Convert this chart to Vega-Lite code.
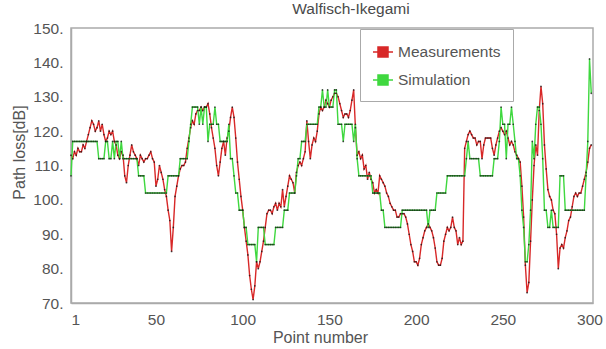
{
"$schema":"https://vega.github.io/schema/vega-lite/v6.json",
"width":522,"height":275,
"autosize":{"type":"none"},
"padding":{"left":71,"top":28,"right":13,"bottom":46},
"background":"white",
"title":{"text":"Walfisch-Ikegami","fontSize":15.5,"font":"Liberation Sans","fontWeight":"normal","color":"#4a4a4a","anchor":"middle","offset":4,"dx":19},
"data":{"values":[
{"n":1,"Measurements":113,"Simulation":107},{"n":2,"Measurements":112,"Simulation":117},{"n":3,"Measurements":114,"Simulation":117},{"n":4,"Measurements":113,"Simulation":117},{"n":5,"Measurements":115,"Simulation":117},{"n":6,"Measurements":114,"Simulation":117},{"n":7,"Measurements":114,"Simulation":117},{"n":8,"Measurements":116,"Simulation":117},{"n":9,"Measurements":115,"Simulation":117},{"n":10,"Measurements":117,"Simulation":117},
{"n":11,"Measurements":119,"Simulation":117},{"n":12,"Measurements":121,"Simulation":117},{"n":13,"Measurements":123,"Simulation":117},{"n":14,"Measurements":122,"Simulation":117},{"n":15,"Measurements":120,"Simulation":117},{"n":16,"Measurements":121,"Simulation":117},{"n":17,"Measurements":123,"Simulation":112},{"n":18,"Measurements":120,"Simulation":112},{"n":19,"Measurements":122,"Simulation":112},{"n":20,"Measurements":119,"Simulation":112},
{"n":21,"Measurements":117,"Simulation":117},{"n":22,"Measurements":118,"Simulation":117},{"n":23,"Measurements":120,"Simulation":112},{"n":24,"Measurements":119,"Simulation":112},{"n":25,"Measurements":120,"Simulation":117},{"n":26,"Measurements":117,"Simulation":112},{"n":27,"Measurements":116,"Simulation":117},{"n":28,"Measurements":113,"Simulation":117},{"n":29,"Measurements":112,"Simulation":112},{"n":30,"Measurements":114,"Simulation":117},
{"n":31,"Measurements":113,"Simulation":112},{"n":32,"Measurements":107,"Simulation":112},{"n":33,"Measurements":105,"Simulation":112},{"n":34,"Measurements":110,"Simulation":112},{"n":35,"Measurements":113,"Simulation":112},{"n":36,"Measurements":116,"Simulation":112},{"n":37,"Measurements":114,"Simulation":112},{"n":38,"Measurements":113,"Simulation":112},{"n":39,"Measurements":112,"Simulation":112},{"n":40,"Measurements":110,"Simulation":107},
{"n":41,"Measurements":113,"Simulation":107},{"n":42,"Measurements":112,"Simulation":107},{"n":43,"Measurements":111,"Simulation":107},{"n":44,"Measurements":112,"Simulation":102},{"n":45,"Measurements":112,"Simulation":102},{"n":46,"Measurements":113,"Simulation":102},{"n":47,"Measurements":114,"Simulation":102},{"n":48,"Measurements":112,"Simulation":102},{"n":49,"Measurements":111,"Simulation":102},{"n":50,"Measurements":104,"Simulation":102},
{"n":51,"Measurements":106,"Simulation":102},{"n":52,"Measurements":110,"Simulation":102},{"n":53,"Measurements":108,"Simulation":102},{"n":54,"Measurements":106,"Simulation":102},{"n":55,"Measurements":103,"Simulation":102},{"n":56,"Measurements":101,"Simulation":102},{"n":57,"Measurements":97,"Simulation":107},{"n":58,"Measurements":94,"Simulation":107},{"n":59,"Measurements":85,"Simulation":107},{"n":60,"Measurements":92,"Simulation":107},
{"n":61,"Measurements":101,"Simulation":107},{"n":62,"Measurements":104,"Simulation":107},{"n":63,"Measurements":107,"Simulation":107},{"n":64,"Measurements":109,"Simulation":112},{"n":65,"Measurements":110,"Simulation":112},{"n":66,"Measurements":110,"Simulation":112},{"n":67,"Measurements":111,"Simulation":112},{"n":68,"Measurements":115,"Simulation":112},{"n":69,"Measurements":118,"Simulation":117},{"n":70,"Measurements":121,"Simulation":122},
{"n":71,"Measurements":123,"Simulation":127},{"n":72,"Measurements":122,"Simulation":127},{"n":73,"Measurements":125,"Simulation":127},{"n":74,"Measurements":126,"Simulation":127},{"n":75,"Measurements":126,"Simulation":122},{"n":76,"Measurements":127,"Simulation":127},{"n":77,"Measurements":126,"Simulation":122},{"n":78,"Measurements":127,"Simulation":127},{"n":79,"Measurements":127,"Simulation":127},{"n":80,"Measurements":128,"Simulation":117},
{"n":81,"Measurements":125,"Simulation":122},{"n":82,"Measurements":121,"Simulation":122},{"n":83,"Measurements":118,"Simulation":122},{"n":84,"Measurements":115,"Simulation":127},{"n":85,"Measurements":110,"Simulation":122},{"n":86,"Measurements":107,"Simulation":122},{"n":87,"Measurements":111,"Simulation":117},{"n":88,"Measurements":115,"Simulation":117},{"n":89,"Measurements":117,"Simulation":117},{"n":90,"Measurements":113,"Simulation":117},
{"n":91,"Measurements":118,"Simulation":117},{"n":92,"Measurements":120,"Simulation":122},{"n":93,"Measurements":124,"Simulation":112},{"n":94,"Measurements":127,"Simulation":112},{"n":95,"Measurements":124,"Simulation":107},{"n":96,"Measurements":118,"Simulation":102},{"n":97,"Measurements":111,"Simulation":102},{"n":98,"Measurements":106,"Simulation":97},{"n":99,"Measurements":101,"Simulation":97},{"n":100,"Measurements":97,"Simulation":97},
{"n":101,"Measurements":92,"Simulation":92},{"n":102,"Measurements":88,"Simulation":92},{"n":103,"Measurements":84,"Simulation":87},{"n":104,"Measurements":78,"Simulation":87},{"n":105,"Measurements":74,"Simulation":87},{"n":106,"Measurements":71,"Simulation":87},{"n":107,"Measurements":75,"Simulation":87},{"n":108,"Measurements":82,"Simulation":82},{"n":109,"Measurements":80,"Simulation":92},{"n":110,"Measurements":82,"Simulation":92},
{"n":111,"Measurements":85,"Simulation":92},{"n":112,"Measurements":88,"Simulation":92},{"n":113,"Measurements":92,"Simulation":87},{"n":114,"Measurements":96,"Simulation":87},{"n":115,"Measurements":97,"Simulation":87},{"n":116,"Measurements":97,"Simulation":87},{"n":117,"Measurements":96,"Simulation":87},{"n":118,"Measurements":98,"Simulation":87},{"n":119,"Measurements":99,"Simulation":92},{"n":120,"Measurements":97,"Simulation":92},
{"n":121,"Measurements":99,"Simulation":92},{"n":122,"Measurements":98,"Simulation":92},{"n":123,"Measurements":103,"Simulation":92},{"n":124,"Measurements":98,"Simulation":97},{"n":125,"Measurements":101,"Simulation":97},{"n":126,"Measurements":104,"Simulation":97},{"n":127,"Measurements":107,"Simulation":102},{"n":128,"Measurements":106,"Simulation":102},{"n":129,"Measurements":105,"Simulation":102},{"n":130,"Measurements":102,"Simulation":102},
{"n":131,"Measurements":108,"Simulation":107},{"n":132,"Measurements":110,"Simulation":112},{"n":133,"Measurements":111,"Simulation":112},{"n":134,"Measurements":110,"Simulation":117},{"n":135,"Measurements":112,"Simulation":117},{"n":136,"Measurements":114,"Simulation":117},{"n":137,"Measurements":123,"Simulation":122},{"n":138,"Measurements":117,"Simulation":122},{"n":139,"Measurements":112,"Simulation":122},{"n":140,"Measurements":116,"Simulation":122},
{"n":141,"Measurements":118,"Simulation":122},{"n":142,"Measurements":117,"Simulation":122},{"n":143,"Measurements":120,"Simulation":122},{"n":144,"Measurements":125,"Simulation":127},{"n":145,"Measurements":127,"Simulation":127},{"n":146,"Measurements":126,"Simulation":132},{"n":147,"Measurements":127,"Simulation":127},{"n":148,"Measurements":129,"Simulation":127},{"n":149,"Measurements":128,"Simulation":132},{"n":150,"Measurements":127,"Simulation":127},
{"n":151,"Measurements":129,"Simulation":127},{"n":152,"Measurements":130,"Simulation":127},{"n":153,"Measurements":131,"Simulation":132},{"n":154,"Measurements":131,"Simulation":132},{"n":155,"Measurements":130,"Simulation":122},{"n":156,"Measurements":128,"Simulation":122},{"n":157,"Measurements":126,"Simulation":122},{"n":158,"Measurements":124,"Simulation":117},{"n":159,"Measurements":125,"Simulation":122},{"n":160,"Measurements":125,"Simulation":122},
{"n":161,"Measurements":124,"Simulation":122},{"n":162,"Measurements":126,"Simulation":122},{"n":163,"Measurements":129,"Simulation":122},{"n":164,"Measurements":132,"Simulation":117},{"n":165,"Measurements":121,"Simulation":122},{"n":166,"Measurements":113,"Simulation":112},{"n":167,"Measurements":114,"Simulation":107},{"n":168,"Measurements":112,"Simulation":107},{"n":169,"Measurements":113,"Simulation":107},{"n":170,"Measurements":109,"Simulation":107},
{"n":171,"Measurements":110,"Simulation":107},{"n":172,"Measurements":106,"Simulation":107},{"n":173,"Measurements":108,"Simulation":107},{"n":174,"Measurements":106,"Simulation":107},{"n":175,"Measurements":105,"Simulation":102},{"n":176,"Measurements":102,"Simulation":102},{"n":177,"Measurements":103,"Simulation":102},{"n":178,"Measurements":102,"Simulation":102},{"n":179,"Measurements":107,"Simulation":102},{"n":180,"Measurements":106,"Simulation":97},
{"n":181,"Measurements":105,"Simulation":97},{"n":182,"Measurements":104,"Simulation":92},{"n":183,"Measurements":102,"Simulation":92},{"n":184,"Measurements":101,"Simulation":92},{"n":185,"Measurements":99,"Simulation":92},{"n":186,"Measurements":98,"Simulation":92},{"n":187,"Measurements":97,"Simulation":92},{"n":188,"Measurements":97,"Simulation":92},{"n":189,"Measurements":95,"Simulation":92},{"n":190,"Measurements":95,"Simulation":92},
{"n":191,"Measurements":96,"Simulation":92},{"n":192,"Measurements":96,"Simulation":97},{"n":193,"Measurements":96,"Simulation":97},{"n":194,"Measurements":95,"Simulation":97},{"n":195,"Measurements":93,"Simulation":97},{"n":196,"Measurements":90,"Simulation":97},{"n":197,"Measurements":87,"Simulation":97},{"n":198,"Measurements":85,"Simulation":97},{"n":199,"Measurements":82,"Simulation":97},{"n":200,"Measurements":82,"Simulation":97},
{"n":201,"Measurements":81,"Simulation":97},{"n":202,"Measurements":83,"Simulation":97},{"n":203,"Measurements":87,"Simulation":97},{"n":204,"Measurements":89,"Simulation":97},{"n":205,"Measurements":91,"Simulation":97},{"n":206,"Measurements":92,"Simulation":97},{"n":207,"Measurements":93,"Simulation":92},{"n":208,"Measurements":92,"Simulation":97},{"n":209,"Measurements":91,"Simulation":97},{"n":210,"Measurements":89,"Simulation":97},
{"n":211,"Measurements":86,"Simulation":97},{"n":212,"Measurements":82,"Simulation":102},{"n":213,"Measurements":81,"Simulation":102},{"n":214,"Measurements":81,"Simulation":102},{"n":215,"Measurements":83,"Simulation":102},{"n":216,"Measurements":88,"Simulation":102},{"n":217,"Measurements":90,"Simulation":102},{"n":218,"Measurements":92,"Simulation":107},{"n":219,"Measurements":91,"Simulation":107},{"n":220,"Measurements":92,"Simulation":107},
{"n":221,"Measurements":95,"Simulation":107},{"n":222,"Measurements":92,"Simulation":107},{"n":223,"Measurements":91,"Simulation":107},{"n":224,"Measurements":87,"Simulation":107},{"n":225,"Measurements":89,"Simulation":107},{"n":226,"Measurements":87,"Simulation":107},{"n":227,"Measurements":88,"Simulation":107},{"n":228,"Measurements":115,"Simulation":107},{"n":229,"Measurements":117,"Simulation":112},{"n":230,"Measurements":119,"Simulation":117},
{"n":231,"Measurements":120,"Simulation":112},{"n":232,"Measurements":119,"Simulation":112},{"n":233,"Measurements":118,"Simulation":112},{"n":234,"Measurements":118,"Simulation":112},{"n":235,"Measurements":116,"Simulation":112},{"n":236,"Measurements":117,"Simulation":112},{"n":237,"Measurements":117,"Simulation":107},{"n":238,"Measurements":112,"Simulation":107},{"n":239,"Measurements":116,"Simulation":107},{"n":240,"Measurements":118,"Simulation":107},
{"n":241,"Measurements":118,"Simulation":107},{"n":242,"Measurements":118,"Simulation":107},{"n":243,"Measurements":118,"Simulation":107},{"n":244,"Measurements":115,"Simulation":107},{"n":245,"Measurements":113,"Simulation":112},{"n":246,"Measurements":116,"Simulation":112},{"n":247,"Measurements":118,"Simulation":112},{"n":248,"Measurements":120,"Simulation":117},{"n":249,"Measurements":121,"Simulation":127},{"n":250,"Measurements":120,"Simulation":122},
{"n":251,"Measurements":119,"Simulation":122},{"n":252,"Measurements":120,"Simulation":112},{"n":253,"Measurements":118,"Simulation":122},{"n":254,"Measurements":116,"Simulation":122},{"n":255,"Measurements":117,"Simulation":127},{"n":256,"Measurements":116,"Simulation":122},{"n":257,"Measurements":114,"Simulation":117},{"n":258,"Measurements":113,"Simulation":112},{"n":259,"Measurements":112,"Simulation":112},{"n":260,"Measurements":111,"Simulation":107},
{"n":261,"Measurements":104,"Simulation":97},{"n":262,"Measurements":95,"Simulation":92},{"n":263,"Measurements":81,"Simulation":82},{"n":264,"Measurements":73,"Simulation":82},{"n":265,"Measurements":76,"Simulation":87},{"n":266,"Measurements":88,"Simulation":97},{"n":267,"Measurements":100,"Simulation":117},{"n":268,"Measurements":110,"Simulation":112},{"n":269,"Measurements":116,"Simulation":122},{"n":270,"Measurements":113,"Simulation":127},
{"n":271,"Measurements":126,"Simulation":127},{"n":272,"Measurements":133,"Simulation":122},{"n":273,"Measurements":128,"Simulation":112},{"n":274,"Measurements":116,"Simulation":97},{"n":275,"Measurements":109,"Simulation":97},{"n":276,"Measurements":103,"Simulation":92},{"n":277,"Measurements":101,"Simulation":92},{"n":278,"Measurements":100,"Simulation":97},{"n":279,"Measurements":97,"Simulation":92},{"n":280,"Measurements":96,"Simulation":92},
{"n":281,"Measurements":90,"Simulation":92},{"n":282,"Measurements":80,"Simulation":92},{"n":283,"Measurements":86,"Simulation":107},{"n":284,"Measurements":87,"Simulation":107},{"n":285,"Measurements":86,"Simulation":107},{"n":286,"Measurements":89,"Simulation":97},{"n":287,"Measurements":91,"Simulation":97},{"n":288,"Measurements":94,"Simulation":97},{"n":289,"Measurements":95,"Simulation":97},{"n":290,"Measurements":98,"Simulation":97},
{"n":291,"Measurements":101,"Simulation":97},{"n":292,"Measurements":102,"Simulation":97},{"n":293,"Measurements":101,"Simulation":97},{"n":294,"Measurements":102,"Simulation":97},{"n":295,"Measurements":102,"Simulation":97},{"n":296,"Measurements":104,"Simulation":97},{"n":297,"Measurements":106,"Simulation":97},{"n":298,"Measurements":108,"Simulation":107},{"n":299,"Measurements":111,"Simulation":117},{"n":300,"Measurements":115,"Simulation":141},
{"n":301,"Measurements":116,"Simulation":131}
]},
"transform":[{"fold":["Measurements","Simulation"],"as":["series","value"]}],
"encoding":{
"x":{"field":"n","type":"quantitative","scale":{"domain":[1,302],"nice":false,"zero":false},"axis":{"values":[1,50,100,150,200,250,300],"title":"Point number","titleX":249}},
"y":{"field":"value","type":"quantitative","scale":{"domain":[70,150],"nice":false,"zero":false},"axis":{"values":[70,80,90,100,110,120,130,140,150],"labelExpr":"datum.label + '.'","title":"Path loss[dB]","titleY":124}}
},
"layer":[
{"mark":{"type":"line","strokeWidth":1.4},
"encoding":{"color":{"field":"series","type":"nominal","scale":{"domain":["Measurements","Simulation"],"range":["#d82828","#3fd83f"]},
"legend":{"title":null,"orient":"none","legendX":289,"legendY":1,"direction":"vertical","fillColor":"white","strokeColor":"#aaaaaa","padding":12,"labelFontSize":15.5,"labelFont":"Liberation Sans","labelColor":"#555555","symbolType":"M-1,0H-0.5M0.5,0H1M-0.5,-0.5H0.5V0.5H-0.5Z","symbolSize":400,"symbolStrokeWidth":1.5,"rowPadding":8,"labelOffset":4,"symbolOpacity":1,
"encoding":{"symbols":{"fill":{"value":{"expr":"scale('color', datum.value)"}}}}}}}},
{"mark":{"type":"point","filled":true,"size":3,"color":"#111111","opacity":0.75},"encoding":{"detail":{"field":"series","type":"nominal"}}}
],
"config":{
"view":{"stroke":"#aaaaaa","strokeWidth":1.5},
"axis":{"domainColor":"#aaaaaa","domainWidth":1.5,"ticks":false,"grid":false,"labelFont":"Liberation Sans","labelFontSize":15.5,"labelColor":"#555555","titleFont":"Liberation Sans","titleFontSize":16,"titleFontWeight":"normal","titleColor":"#555555"},
"axisX":{"labelPadding":9,"titlePadding":2},
"axisY":{"labelPadding":8,"titlePadding":5}
}
}
